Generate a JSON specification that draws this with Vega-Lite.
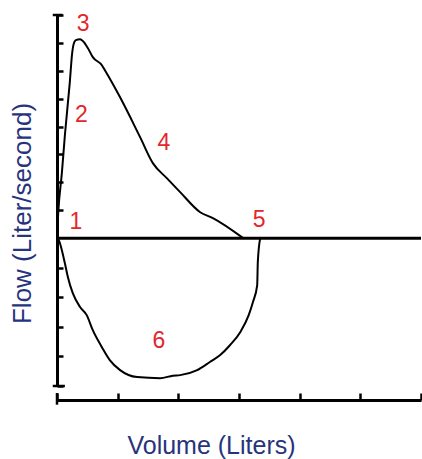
{
  "$schema": "https://vega.github.io/schema/vega-lite/v6.json",
  "autosize": "none",
  "width": 364,
  "height": 371,
  "padding": {"left": 57, "top": 15, "right": 1, "bottom": 73},
  "background": "white",
  "config": {"view": {"stroke": null}, "font": "Liberation Sans"},
  "datasets": {
    "curves": [
      {"curve": "exp", "i": 0, "v": 0, "f": 0},
      {"curve": "exp", "i": 1, "v": 0.02, "f": 0.9},
      {"curve": "exp", "i": 2, "v": 0.08, "f": 2.33},
      {"curve": "exp", "i": 3, "v": 0.13, "f": 3.69},
      {"curve": "exp", "i": 4, "v": 0.21, "f": 5.56},
      {"curve": "exp", "i": 5, "v": 0.25, "f": 6.63},
      {"curve": "exp", "i": 6, "v": 0.27, "f": 6.92},
      {"curve": "exp", "i": 7, "v": 0.31, "f": 7.1},
      {"curve": "exp", "i": 8, "v": 0.38, "f": 7.13},
      {"curve": "exp", "i": 9, "v": 0.43, "f": 7.06},
      {"curve": "exp", "i": 10, "v": 0.51, "f": 6.81},
      {"curve": "exp", "i": 11, "v": 0.59, "f": 6.49},
      {"curve": "exp", "i": 12, "v": 0.74, "f": 6.2},
      {"curve": "exp", "i": 13, "v": 0.79, "f": 6.02},
      {"curve": "exp", "i": 14, "v": 1.04, "f": 5.05},
      {"curve": "exp", "i": 15, "v": 1.37, "f": 3.62},
      {"curve": "exp", "i": 16, "v": 1.58, "f": 2.69},
      {"curve": "exp", "i": 17, "v": 1.81, "f": 2.15},
      {"curve": "exp", "i": 18, "v": 2.03, "f": 1.65},
      {"curve": "exp", "i": 19, "v": 2.36, "f": 0.93},
      {"curve": "exp", "i": 20, "v": 2.57, "f": 0.72},
      {"curve": "exp", "i": 21, "v": 3.07, "f": 0},
      {"curve": "insp", "i": 0, "v": 0, "f": 0},
      {"curve": "insp", "i": 1, "v": 0.03, "f": -0.07},
      {"curve": "insp", "i": 2, "v": 0.08, "f": -0.43},
      {"curve": "insp", "i": 3, "v": 0.13, "f": -0.9},
      {"curve": "insp", "i": 4, "v": 0.18, "f": -1.4},
      {"curve": "insp", "i": 5, "v": 0.26, "f": -1.97},
      {"curve": "insp", "i": 6, "v": 0.38, "f": -2.47},
      {"curve": "insp", "i": 7, "v": 0.49, "f": -2.76},
      {"curve": "insp", "i": 8, "v": 0.59, "f": -3.3},
      {"curve": "insp", "i": 9, "v": 0.74, "f": -3.91},
      {"curve": "insp", "i": 10, "v": 0.87, "f": -4.37},
      {"curve": "insp", "i": 11, "v": 1.04, "f": -4.73},
      {"curve": "insp", "i": 12, "v": 1.32, "f": -4.98},
      {"curve": "insp", "i": 13, "v": 1.7, "f": -5.02},
      {"curve": "insp", "i": 14, "v": 1.91, "f": -4.93},
      {"curve": "insp", "i": 15, "v": 2.03, "f": -4.91},
      {"curve": "insp", "i": 16, "v": 2.31, "f": -4.73},
      {"curve": "insp", "i": 17, "v": 2.52, "f": -4.44},
      {"curve": "insp", "i": 18, "v": 2.69, "f": -4.19},
      {"curve": "insp", "i": 19, "v": 2.85, "f": -3.84},
      {"curve": "insp", "i": 20, "v": 3.02, "f": -3.37},
      {"curve": "insp", "i": 21, "v": 3.16, "f": -2.76},
      {"curve": "insp", "i": 22, "v": 3.23, "f": -2.29},
      {"curve": "insp", "i": 23, "v": 3.3, "f": -1.68},
      {"curve": "insp", "i": 24, "v": 3.31, "f": -0.86},
      {"curve": "insp", "i": 25, "v": 3.35, "f": 0}
    ],
    "labels": [
      {"label": "1", "v": 0.31, "f": 0.57},
      {"label": "2", "v": 0.4, "f": 4.41},
      {"label": "3", "v": 0.43, "f": 7.67},
      {"label": "4", "v": 1.76, "f": 3.41},
      {"label": "5", "v": 3.33, "f": 0.65},
      {"label": "6", "v": 1.68, "f": -3.69}
    ],
    "zero": [{"v1": 0, "v2": 6, "f": 0}],
    "caps": [
      {"v1": -0.07, "v2": 0.09, "f1": 8, "f2": 8},
      {"v1": -0.07, "v2": 0.13, "f1": -5.3, "f2": -5.3},
      {"v1": 0, "v2": 0, "f1": -5.55, "f2": -5.97}
    ]
  },
  "layer": [
    {
      "data": {"name": "curves"},
      "mark": {"type": "line", "color": "black", "strokeWidth": 2, "interpolate": "monotone"},
      "encoding": {
        "x": {
          "field": "v", "type": "quantitative",
          "scale": {"domain": [0, 6], "nice": false},
          "axis": {
            "values": [0, 1, 2, 3, 4, 5, 6], "tickCount": 20,
            "labels": false, "grid": false, "offset": 14,
            "domainColor": "black", "domainWidth": 3,
            "tickColor": "black", "tickWidth": 2.5, "tickSize": -7,
            "title": "Volume (Liters)",
            "titleFont": "Liberation Sans", "titleFontSize": 25, "titleFontWeight": "normal",
            "titleColor": "#27347d",
            "titleBaseline": "alphabetic", "titleAlign": "center",
            "titleX": 154, "titleY": 53
          }
        },
        "y": {
          "field": "f", "type": "quantitative",
          "scale": {"domain": [-5.3, 8], "nice": false, "zero": false},
          "axis": {
            "values": [8, 7, 6, 5, 4, 3, 2, 1, -1.06, -2.12, -3.18, -4.24, -5.3], "tickCount": 20,
            "labels": false, "labelOverlap": false, "grid": false,
            "domainColor": "black", "domainWidth": 3,
            "tickColor": "black", "tickWidth": 2.5, "tickSize": -6,
            "title": "Flow (Liter/second)",
            "titleFont": "Liberation Sans", "titleFontSize": 26, "titleFontWeight": "normal",
            "titleColor": "#27347d",
            "titleAngle": 270, "titleBaseline": "alphabetic", "titleAlign": "center",
            "titleX": -27, "titleY": 198
          }
        },
        "detail": {"field": "curve"},
        "order": {"field": "i", "type": "quantitative"}
      }
    },
    {
      "data": {"name": "zero"},
      "mark": {"type": "rule", "color": "black", "strokeWidth": 3},
      "encoding": {
        "x": {"field": "v1", "type": "quantitative"},
        "x2": {"field": "v2"},
        "y": {"field": "f", "type": "quantitative"}
      }
    },
    {
      "data": {"name": "caps"},
      "mark": {"type": "rule", "color": "black", "strokeWidth": 2.5, "clip": false},
      "encoding": {
        "x": {"field": "v1", "type": "quantitative"},
        "x2": {"field": "v2"},
        "y": {"field": "f1", "type": "quantitative"},
        "y2": {"field": "f2"}
      }
    },
    {
      "data": {"name": "labels"},
      "mark": {"type": "text", "color": "#e3262b", "fontSize": 23, "font": "Liberation Sans", "align": "center", "baseline": "middle"},
      "encoding": {
        "x": {"field": "v", "type": "quantitative"},
        "y": {"field": "f", "type": "quantitative"},
        "text": {"field": "label"}
      }
    }
  ]
}
